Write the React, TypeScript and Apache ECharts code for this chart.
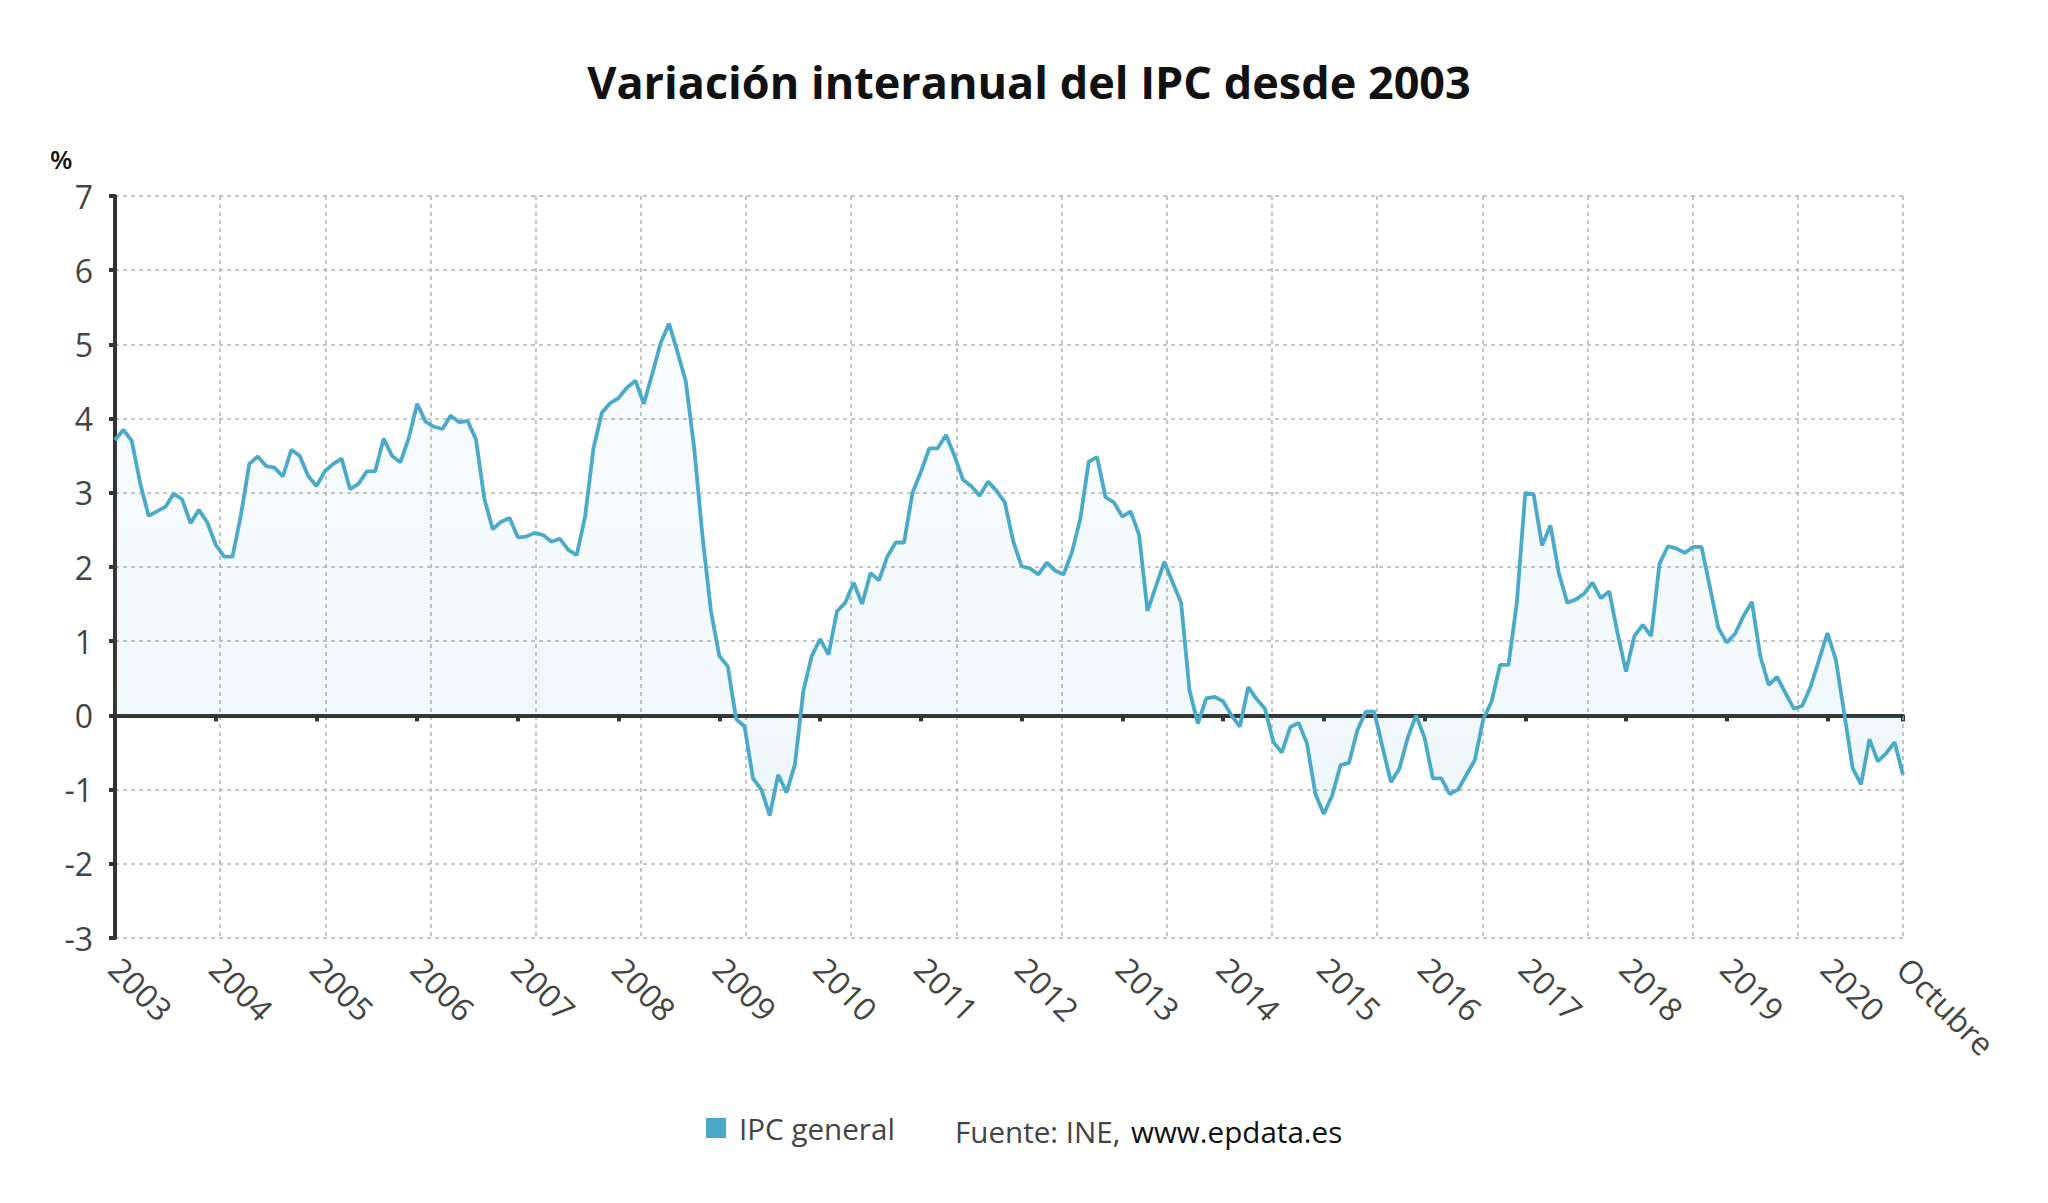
import React, { useEffect, useRef } from "react";
import * as echarts from "echarts";

const years = [2003, 2004, 2005, 2006, 2007, 2008, 2009, 2010, 2011, 2012, 2013, 2014, 2015, 2016, 2017, 2018, 2019, 2020];
const months = ["Enero", "Febrero", "Marzo", "Abril", "Mayo", "Junio", "Julio", "Agosto", "Septiembre", "Octubre", "Noviembre", "Diciembre"];
const lastLabel = "Octubre";

const ipc2003 = [3.71, 3.85, 3.7, 3.13, 2.69, 2.75, 2.81, 2.99, 2.91, 2.59, 2.77, 2.6];
const ipc2004 = [2.3, 2.14, 2.14, 2.7, 3.39, 3.49, 3.36, 3.34, 3.22, 3.58, 3.5, 3.23];
const ipc2005 = [3.09, 3.29, 3.39, 3.46, 3.05, 3.12, 3.29, 3.29, 3.73, 3.5, 3.41, 3.74];
const ipc2006 = [4.2, 3.96, 3.89, 3.86, 4.04, 3.95, 3.97, 3.72, 2.92, 2.51, 2.61, 2.66];
const ipc2007 = [2.4, 2.41, 2.46, 2.43, 2.34, 2.38, 2.23, 2.16, 2.68, 3.6, 4.08, 4.21];
const ipc2008 = [4.28, 4.42, 4.51, 4.2, 4.6, 5.02, 5.28, 4.9, 4.5, 3.6, 2.4, 1.4];
const ipc2009 = [0.8, 0.66, -0.05, -0.15, -0.85, -1.0, -1.35, -0.8, -1.04, -0.66, 0.33, 0.8];
const ipc2010 = [1.03, 0.82, 1.4, 1.52, 1.79, 1.5, 1.92, 1.82, 2.14, 2.33, 2.33, 3.0];
const ipc2011 = [3.28, 3.6, 3.6, 3.78, 3.5, 3.18, 3.09, 2.96, 3.15, 3.03, 2.87, 2.35];
const ipc2012 = [2.01, 1.98, 1.9, 2.06, 1.95, 1.9, 2.2, 2.65, 3.42, 3.48, 2.94, 2.87];
const ipc2013 = [2.68, 2.75, 2.43, 1.41, 1.74, 2.07, 1.79, 1.52, 0.34, -0.11, 0.23, 0.25];
const ipc2014 = [0.19, 0.0, -0.15, 0.38, 0.22, 0.09, -0.36, -0.5, -0.16, -0.1, -0.38, -1.06];
const ipc2015 = [-1.33, -1.08, -0.67, -0.64, -0.2, 0.05, 0.05, -0.43, -0.9, -0.72, -0.3, 0.0];
const ipc2016 = [-0.3, -0.85, -0.85, -1.06, -1.0, -0.8, -0.6, -0.05, 0.19, 0.68, 0.68, 1.52];
const ipc2017 = [3.0, 2.98, 2.29, 2.56, 1.92, 1.52, 1.56, 1.64, 1.79, 1.58, 1.67, 1.11];
const ipc2018 = [0.59, 1.07, 1.22, 1.07, 2.05, 2.28, 2.25, 2.19, 2.27, 2.27, 1.73, 1.18];
const ipc2019 = [0.98, 1.1, 1.34, 1.53, 0.8, 0.41, 0.52, 0.3, 0.09, 0.13, 0.39, 0.75];
const ipc2020 = [1.11, 0.75, 0.03, -0.71, -0.93, -0.32, -0.62, -0.51, -0.36, -0.8];

const yearly = [ipc2003, ipc2004, ipc2005, ipc2006, ipc2007, ipc2008, ipc2009, ipc2010, ipc2011, ipc2012, ipc2013, ipc2014, ipc2015, ipc2016, ipc2017, ipc2018, ipc2019, ipc2020];

const seriesName = "IPC general";
const titleText = "Variación interanual del IPC desde 2003";
const sourceText = "Fuente: INE,";
const sourceLink = "www.epdata.es";

export default function App() {
  const ref = useRef<HTMLDivElement>(null);

  useEffect(() => {
    document.body.style.margin = "0";
    const categories: string[] = [];
    const values: number[] = [];
    yearly.forEach((arr, yi) => {
      arr.forEach((v, mi) => {
        categories.push(months[mi] + " " + years[yi]);
        values.push(v);
      });
    });
    const lastIdx = values.length - 1;
    const showIdx = (index: number) => index % 12 === 0 || index === lastIdx;

    const chart = echarts.init(ref.current!, null, { renderer: "svg" });
    const font = "'Open Sans', sans-serif";
    const gridStyle = { color: "#b3b3b3", width: 1.5, type: [4, 4] };
    chart.setOption({
      animation: false,
      textStyle: { fontFamily: font },
      grid: { left: 115, right: 145, top: 196, bottom: 265 },
      legend: {
        data: [seriesName],
        left: 706,
        top: 1113,
        padding: 0,
        icon: "rect",
        itemWidth: 20,
        itemHeight: 20,
        itemGap: 10,
        textStyle: { fontSize: 29.6, color: "#444", fontFamily: font, padding: [0, 0, 0, 8] },
      },
      xAxis: [
        {
          type: "category",
          data: categories,
          boundaryGap: false,
          axisLine: { show: true, lineStyle: { color: "#333", width: 4 } },
          axisTick: { show: true, interval: (i: number) => showIdx(i), length: 6, lineStyle: { color: "#333", width: 4 } },
          axisLabel: {
            interval: (i: number) => showIdx(i),
            rotate: -45,
            margin: 25,
            fontSize: 32,
            color: "#444",
            fontFamily: font,
            formatter: (_v: string, i: number) => (i === lastIdx ? lastLabel : String(years[Math.floor(i / 12)])),
          },
          splitLine: { show: false },
          z: 0,
        },
        {
          type: "value",
          position: "top",
          min: 0,
          max: 17,
          interval: 1,
          axisLine: { show: false },
          axisTick: { show: false },
          axisLabel: { show: false },
          splitLine: { show: true, lineStyle: gridStyle },
          z: 1,
        },
      ],
      yAxis: {
        type: "value",
        min: -3,
        max: 7,
        interval: 1,
        axisLine: { show: true, lineStyle: { color: "#333", width: 4 } },
        axisTick: { show: true, length: 6, lineStyle: { color: "#333", width: 4 } },
        axisLabel: { fontSize: 32, color: "#444", margin: 22, fontFamily: font },
        splitLine: { show: true, lineStyle: gridStyle },
        z: 1,
      },
      series: [
        {
          name: seriesName,
          type: "line",
          xAxisIndex: 0,
          data: values,
          symbol: "none",
          color: "#4aaac8",
          lineStyle: { color: "#4aaac8", width: 3.8 },
          areaStyle: {
            origin: 0,
            color: new echarts.graphic.LinearGradient(0, 0, 0, 1, [
              { offset: 0, color: "rgba(80,165,205,0.04)" },
              { offset: 1, color: "rgba(80,165,205,0.13)" },
            ]),
          },
          markLine: {
            silent: true,
            symbol: ["none", "none"],
            label: { show: false },
            lineStyle: { color: "#333", width: 4, type: "solid" },
            data: [{ yAxis: 0 }],
            z: 1,
          },
        },
      ],
      graphic: [
        {
          type: "text",
          x: 1029,
          y: 81,
          style: {
            text: titleText,
            font: "bold 45px 'Open Sans', sans-serif",
            fill: "#111",
            textAlign: "center",
            textVerticalAlign: "middle",
          },
        },
        {
          type: "text",
          x: 50,
          y: 159,
          style: {
            text: "%",
            font: "600 26px 'Open Sans', sans-serif",
            fill: "#111",
            textAlign: "left",
            textVerticalAlign: "middle",
          },
        },
        {
          type: "text",
          x: 955,
          y: 1131,
          style: {
            text: sourceText,
            font: "29.6px 'Open Sans', sans-serif",
            fill: "#444",
            textAlign: "left",
            textVerticalAlign: "middle",
          },
        },
        {
          type: "text",
          x: 1131,
          y: 1131,
          style: {
            text: sourceLink,
            font: "29.6px 'Open Sans', sans-serif",
            fill: "#111",
            textAlign: "left",
            textVerticalAlign: "middle",
          },
        },
      ],
    });
    return () => chart.dispose();
  }, []);

  return <div ref={ref} style={{ width: 2048, height: 1203 }} />;
}
